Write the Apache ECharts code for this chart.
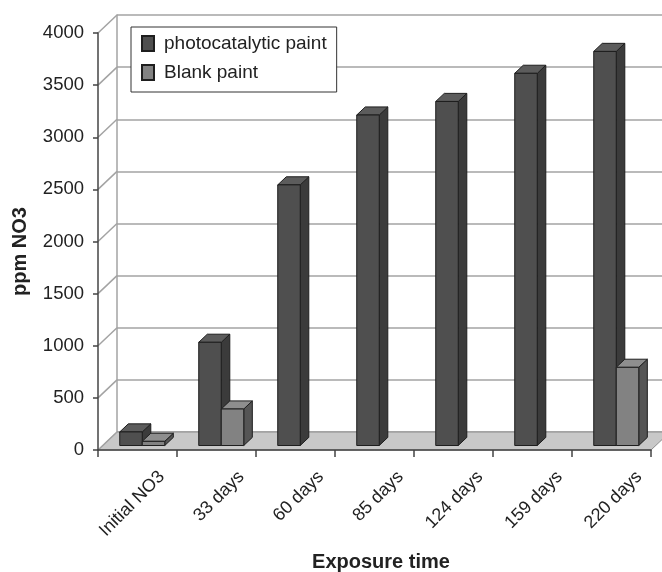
<!DOCTYPE html>
<html>
<head>
<meta charset="utf-8">
<script src="https://cdn.jsdelivr.net/npm/echarts@6/dist/echarts.min.js"></script>
<style>
  html, body { margin: 0; padding: 0; background: #fff; }
  #chart { width: 662px; height: 572px; }
</style>
</head>
<body>
<div id="chart"></div>
<script>
// Nitrate concentration over exposure time
const categories = ['Initial NO3', '33 days', '60 days', '85 days', '124 days', '159 days', '220 days'];
const photocatalytic = [130, 990, 2500, 3170, 3300, 3570, 3780];
const blank = [40, 350, null, null, null, null, 750];
const yTicks = [0, 500, 1000, 1500, 2000, 2500, 3000, 3500, 4000];

// Pseudo-3D layout: front plane grid and a depth offset toward the back wall
const FRONT_GRID = { left: 98, right: 11, top: 33, bottom: 122, outerBoundsMode: 'none', containLabel: false };
const DEPTH = [19, -18];
const BAR_FRONT = 0.25, BAR_BACK = 0.7;   // bar depth as fraction of floor depth
const BAR_FRAC = 0.285;                   // bar width as fraction of a category band
const FONT = '"Liberation Sans", Arial, sans-serif';

const BACK_GRID = {
  left: FRONT_GRID.left + DEPTH[0],
  right: FRONT_GRID.right - DEPTH[0],
  top: FRONT_GRID.top + DEPTH[1],
  bottom: FRONT_GRID.bottom - DEPTH[1],
  outerBoundsMode: 'none', containLabel: false
};
const LABEL_GRID = { left: 122, right: -17, top: FRONT_GRID.top, bottom: FRONT_GRID.bottom, outerBoundsMode: 'none', containLabel: false };

function barRenderer(slot, colors) {
  return function (params, api) {
    const v = api.value(1);
    if (v == null || isNaN(v)) return;
    const cat = api.value(0);
    const base = api.coord([cat, 0]);
    const top = api.coord([cat, v]);
    const w = api.size([1, 0])[0] * BAR_FRAC;
    const fx = DEPTH[0] * BAR_FRONT, fy = DEPTH[1] * BAR_FRONT;
    const dx = DEPTH[0] * (BAR_BACK - BAR_FRONT), dy = DEPTH[1] * (BAR_BACK - BAR_FRONT);
    const x0 = base[0] - w + slot * w + fx, x1 = x0 + w;
    const yb = base[1] + fy, yt = top[1] + fy;
    const line = { stroke: '#1e1e1e', lineWidth: 1, lineJoin: 'round' };
    return {
      type: 'group',
      children: [
        { type: 'polygon', shape: { points: [[x1, yb], [x1 + dx, yb + dy], [x1 + dx, yt + dy], [x1, yt]] },
          style: Object.assign({ fill: colors.side }, line) },
        { type: 'polygon', shape: { points: [[x0, yt], [x1, yt], [x1 + dx, yt + dy], [x0 + dx, yt + dy]] },
          style: Object.assign({ fill: colors.top }, line) },
        { type: 'rect', shape: { x: x0, y: yt, width: w, height: yb - yt },
          style: Object.assign({ fill: colors.front }, line) }
      ]
    };
  };
}

function renderFloor(params) {
  const c = params.coordSys;
  const yb = c.y + c.height, xl = c.x, xr = c.x + c.width;
  return {
    type: 'polygon',
    shape: { points: [[xl, yb], [xr, yb], [xr + DEPTH[0], yb + DEPTH[1]], [xl + DEPTH[0], yb + DEPTH[1]]] },
    style: { fill: '#c8c8c8', stroke: '#8c8c8c', lineWidth: 1 }
  };
}

function renderWallLine(params, api) {
  const c = params.coordSys;
  const p = api.coord([0, api.value(1)]);
  return {
    type: 'line',
    shape: { x1: c.x, y1: p[1], x2: c.x + DEPTH[0], y2: p[1] + DEPTH[1] },
    style: { stroke: '#a3a3a3', lineWidth: 1.5 }
  };
}

const darkColors = { front: '#4f4f4f', side: '#3b3b3b', top: '#5c5c5c' };
const lightColors = { front: '#828282', side: '#555555', top: '#8e8e8e' };

const chart = echarts.init(document.getElementById('chart'), null, { renderer: 'canvas' });
chart.setOption({
  animation: false,
  textStyle: { fontFamily: FONT },
  grid: [
    Object.assign({}, FRONT_GRID),
    Object.assign({}, BACK_GRID),
    Object.assign({}, LABEL_GRID)
  ],
  legend: {
    orient: 'vertical',
    left: 131, top: 27,
    padding: [7, 10, 10, 10],
    itemGap: 10,
    itemWidth: 12, itemHeight: 15,
    backgroundColor: '#fff',
    borderColor: '#333', borderWidth: 1, borderRadius: 0,
    icon: 'rect',
    textStyle: { fontSize: 19, color: '#222', fontFamily: FONT, padding: [0, 0, 0, 5] },
    data: ['photocatalytic paint', 'Blank paint']
  },
  xAxis: [
    {
      gridIndex: 0, type: 'category', data: categories, z: 5,
      axisLine: { lineStyle: { color: '#444', width: 1.5 } },
      axisTick: { show: true, length: 7, lineStyle: { color: '#444', width: 1.5 } },
      axisLabel: { show: false },
      name: 'Exposure time', nameLocation: 'middle', nameGap: 102,
      nameTextStyle: { fontSize: 20, fontWeight: 'bold', color: '#222', padding: [0, 0, 0, 13] }
    },
    { gridIndex: 1, type: 'category', data: categories, show: false },
    {
      gridIndex: 2, type: 'category', data: categories,
      axisLine: { show: false }, axisTick: { show: false },
      axisLabel: { rotate: 45, margin: 24, fontSize: 18, color: '#222', interval: 0 }
    }
  ],
  yAxis: [
    {
      gridIndex: 0, type: 'value', min: 0, max: 4000, interval: 500, z: 5,
      axisLine: { show: true, lineStyle: { color: '#444', width: 1.5 } },
      axisTick: { show: true, length: 5, lineStyle: { color: '#444', width: 1.5 } },
      axisLabel: { margin: 14, fontSize: 18.5, color: '#222', formatter: v => String(v) },
      splitLine: { show: false },
      name: 'ppm NO3', nameLocation: 'middle', nameGap: 68,
      nameTextStyle: { fontSize: 20, fontWeight: 'bold', color: '#222', padding: [0, 20, 0, 0] }
    },
    {
      gridIndex: 1, type: 'value', min: 0, max: 4000, interval: 500,
      axisLine: { show: true, lineStyle: { color: '#a3a3a3', width: 1.5 } },
      axisTick: { show: false }, axisLabel: { show: false },
      splitLine: { show: true, lineStyle: { color: '#a3a3a3', width: 1.5 } }
    },
    { gridIndex: 2, type: 'value', min: 0, max: 4000, show: false }
  ],
  series: [
    {
      type: 'custom', xAxisIndex: 0, yAxisIndex: 0, z: 1, silent: true,
      renderItem: renderFloor, data: [[0, 0]]
    },
    {
      type: 'custom', xAxisIndex: 0, yAxisIndex: 0, z: 1, silent: true,
      renderItem: renderWallLine, encode: { x: 0, y: 1 },
      data: yTicks.map(v => [0, v])
    },
    {
      name: 'photocatalytic paint', type: 'custom', xAxisIndex: 0, yAxisIndex: 0, z: 2,
      itemStyle: { color: darkColors.front, borderColor: '#1e1e1e', borderWidth: 1 },
      renderItem: barRenderer(0, darkColors), encode: { x: 0, y: 1 },
      data: photocatalytic.map((v, i) => [i, v])
    },
    {
      name: 'Blank paint', type: 'custom', xAxisIndex: 0, yAxisIndex: 0, z: 2,
      itemStyle: { color: lightColors.front, borderColor: '#1e1e1e', borderWidth: 1 },
      renderItem: barRenderer(1, lightColors), encode: { x: 0, y: 1 },
      data: blank.map((v, i) => [i, v])
    }
  ]
});
</script>
</body>
</html>
